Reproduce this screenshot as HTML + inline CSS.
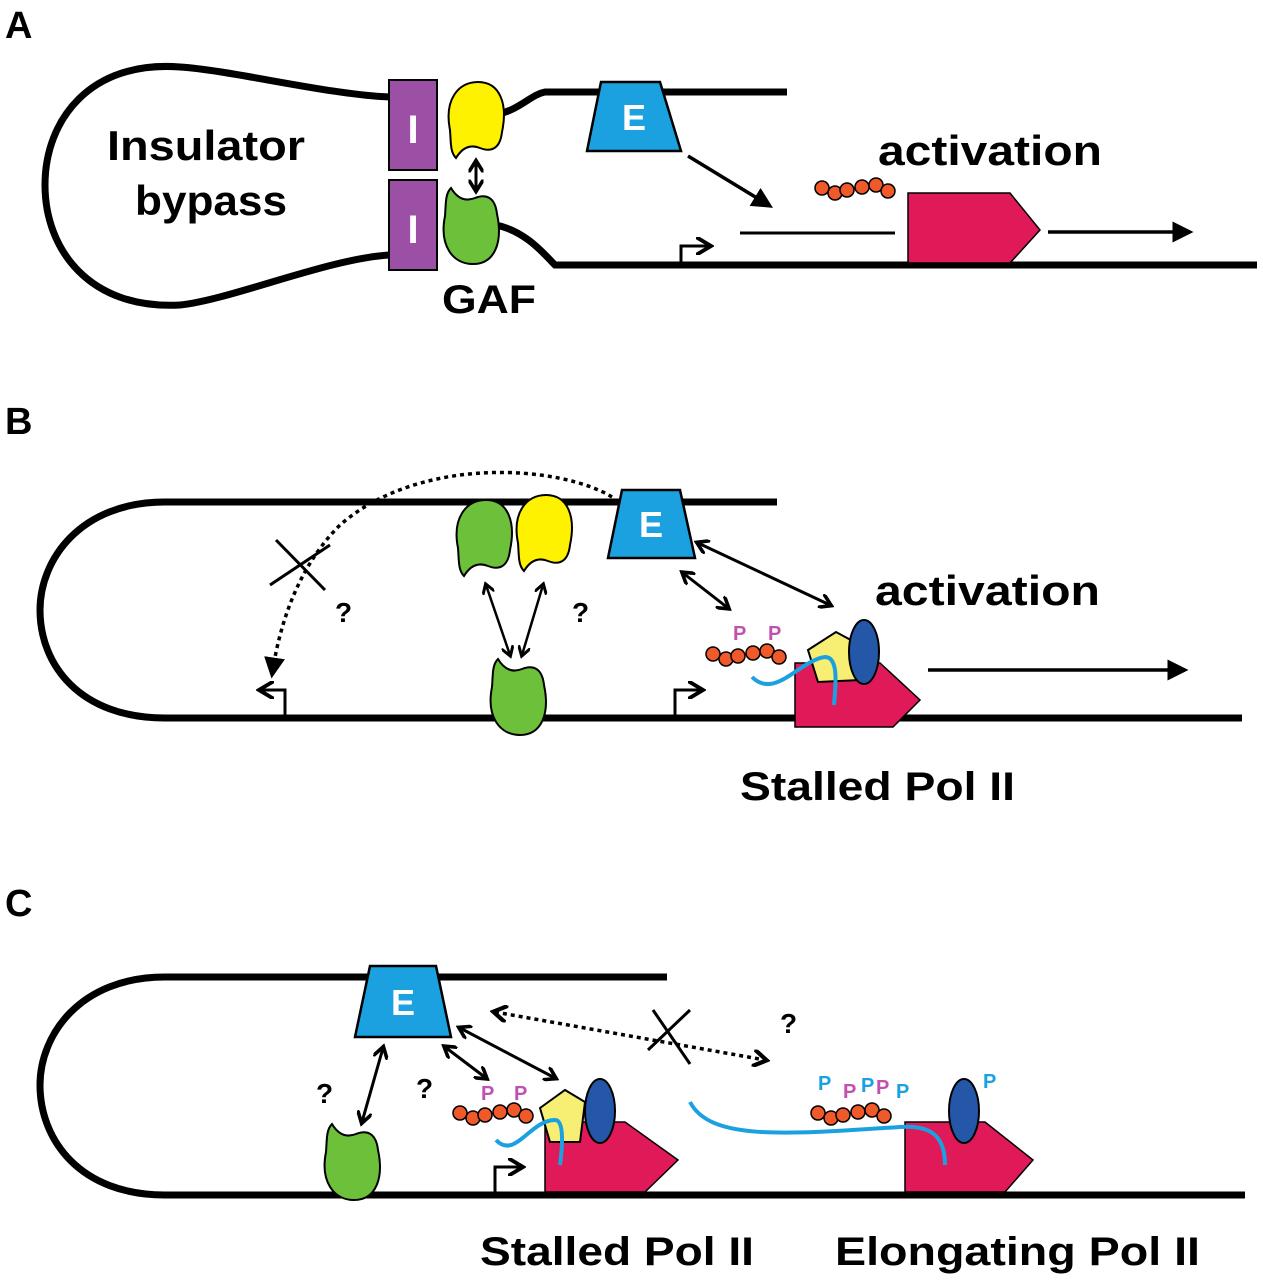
<!DOCTYPE html>
<html><head><meta charset="utf-8"><style>
html,body{margin:0;padding:0;background:#fff;}
svg{display:block;}
text{font-family:"Liberation Sans",sans-serif;font-weight:bold;}
</style></head><body>
<svg width="1263" height="1280" viewBox="0 0 1263 1280" xmlns="http://www.w3.org/2000/svg">
<defs>
<marker id="ah" markerWidth="6" markerHeight="6" refX="4" refY="3" orient="auto" markerUnits="strokeWidth"><path d="M0,0 L5,3 L0,6" fill="none" stroke="#000" stroke-width="1.3"/></marker>
<marker id="ahs" markerWidth="5" markerHeight="5" refX="3.5" refY="2.5" orient="auto-start-reverse" markerUnits="strokeWidth"><path d="M0,0 L4,2.5 L0,5" fill="none" stroke="#000" stroke-width="1.2"/></marker>
<marker id="tri" markerWidth="6" markerHeight="6" refX="5" refY="3" orient="auto" markerUnits="strokeWidth"><path d="M0,0 L6,3 L0,6 Z" fill="#000"/></marker>
<path id="yblob" d="M-26,8 C-32,-22 -18,-40 2,-40 C24,-40 32,-18 26,10 C24,28 14,30 4,26 C-6,22 -14,26 -20,36 C-26,30 -25,20 -26,8 Z"/>
<path id="gblob" d="M-26,-8 C-32,22 -18,40 2,40 C24,40 32,18 26,-10 C24,-28 14,-30 4,-26 C-6,-22 -14,-26 -20,-36 C-26,-30 -25,-20 -26,-8 Z"/>
<g id="beads" fill="#f0592a" stroke="#000" stroke-width="1.5">
<circle cx="0" cy="0" r="7"/><circle cx="13" cy="5" r="7"/><circle cx="25" cy="2" r="7"/><circle cx="40" cy="-1" r="7"/><circle cx="54" cy="-3" r="7"/><circle cx="66" cy="3" r="7"/>
</g>
</defs>

<!-- Panel A -->
<g>
<text x="5" y="38" font-size="38">A</text>
<path d="M390,97 C330,95 230,70 180,67 C90,60 45,120 45,185 C45,250 90,310 180,305 C230,300 330,258 390,255" fill="none" stroke="#000" stroke-width="7"/>
<path d="M495,115 C520,110 530,95 545,92 L787,92" fill="none" stroke="#000" stroke-width="7"/>
<path d="M495,225 C525,230 545,255 555,265 L1257,265" fill="none" stroke="#000" stroke-width="7"/>
<rect x="389" y="80" width="48" height="90" fill="#9b4fa5" stroke="#000" stroke-width="2"/>
<rect x="389" y="180" width="48" height="90" fill="#9b4fa5" stroke="#000" stroke-width="2"/>
<text x="413" y="143" font-size="40" fill="#fff" text-anchor="middle">I</text>
<text x="413" y="243" font-size="40" fill="#fff" text-anchor="middle">I</text>
<use href="#yblob" transform="translate(476,122)" fill="#fff200" stroke="#000" stroke-width="2"/>
<use href="#gblob" transform="translate(471,224)" fill="#6dc03a" stroke="#000" stroke-width="2"/>
<line x1="476" y1="162" x2="476" y2="190" stroke="#000" stroke-width="3" marker-start="url(#ahs)" marker-end="url(#ahs)"/>
<polygon points="601,82 660,82 681,151 587,151" fill="#1ba1e0" stroke="#000" stroke-width="2.5"/>
<text x="634" y="130" font-size="36" fill="#fff" text-anchor="middle">E</text>
<line x1="688" y1="156" x2="770" y2="206" stroke="#000" stroke-width="3.5" marker-end="url(#tri)"/>
<line x1="740" y1="233" x2="895" y2="233" stroke="#000" stroke-width="3"/>
<path d="M681,265 L681,246 L708,246" fill="none" stroke="#000" stroke-width="3" marker-end="url(#ah)"/>
<use href="#beads" transform="translate(822,188)"/>
<polygon points="908,193 1010,193 1040,230 1010,263 908,263" fill="#e01a58" stroke="#000" stroke-width="1.5"/>
<line x1="1048" y1="232" x2="1190" y2="232" stroke="#000" stroke-width="3.5" marker-end="url(#tri)"/>
<text x="107" y="160" font-size="42" textLength="198" lengthAdjust="spacingAndGlyphs">Insulator</text>
<text x="135" y="215" font-size="42" textLength="152" lengthAdjust="spacingAndGlyphs">bypass</text>
<text x="878" y="165" font-size="42" textLength="224" lengthAdjust="spacingAndGlyphs">activation</text>
<text x="442" y="313" font-size="40" textLength="94" lengthAdjust="spacingAndGlyphs">GAF</text>
</g>

<!-- Panel B -->
<g>
<text x="5" y="434" font-size="38">B</text>
<path d="M777,502 L165,502 C80,502 40,560 40,610 C40,665 80,718 165,718 L1242,718" fill="none" stroke="#000" stroke-width="7"/>
<use href="#yblob" transform="translate(544,535)" fill="#fff200" stroke="#000" stroke-width="2"/>
<use href="#gblob" transform="translate(484,540) scale(1,-1)" fill="#6dc03a" stroke="#000" stroke-width="2"/>
<use href="#gblob" transform="translate(518,695)" fill="#6dc03a" stroke="#000" stroke-width="2"/>
<line x1="486" y1="585" x2="510" y2="655" stroke="#000" stroke-width="2.5" marker-start="url(#ahs)" marker-end="url(#ahs)"/>
<line x1="543" y1="585" x2="522" y2="655" stroke="#000" stroke-width="2.5" marker-start="url(#ahs)" marker-end="url(#ahs)"/>
<polygon points="622,490 680,490 695,558 608,558" fill="#1ba1e0" stroke="#000" stroke-width="2.5"/>
<text x="651" y="537" font-size="36" fill="#fff" text-anchor="middle">E</text>
<path d="M612,497 C560,465 420,455 340,525 C300,565 280,620 272,675" fill="none" stroke="#000" stroke-width="3.5" stroke-dasharray="4,4" marker-end="url(#tri)"/>
<line x1="276" y1="540" x2="325" y2="590" stroke="#000" stroke-width="3"/>
<line x1="330" y1="545" x2="270" y2="585" stroke="#000" stroke-width="3"/>
<text x="335" y="622" font-size="28">?</text>
<text x="572" y="622" font-size="28">?</text>
<line x1="683" y1="573" x2="728" y2="608" stroke="#000" stroke-width="3" marker-start="url(#ahs)" marker-end="url(#ahs)"/>
<line x1="698" y1="543" x2="830" y2="605" stroke="#000" stroke-width="3" marker-start="url(#ahs)" marker-end="url(#ahs)"/>
<path d="M285,718 L285,690 L262,690" fill="none" stroke="#000" stroke-width="3" marker-end="url(#ah)"/>
<path d="M675,718 L675,690 L700,690" fill="none" stroke="#000" stroke-width="3" marker-end="url(#ah)"/>
<use href="#beads" transform="translate(713,654)"/>
<text x="733" y="640" font-size="20" fill="#c150b0" font-weight="normal">P</text>
<text x="768" y="640" font-size="20" fill="#c150b0" font-weight="normal">P</text>
<polygon points="795,663 880,663 920,700 893,727 795,727" fill="#e01a58" stroke="#000" stroke-width="1.5"/>
<polygon points="808,650 836,632 860,645 860,680 818,682" fill="#f7ee74" stroke="#000" stroke-width="2"/>
<ellipse cx="864" cy="652" rx="15" ry="32" fill="#2457a8" stroke="#000" stroke-width="2"/>
<path d="M752,677 C775,700 800,660 825,657 C840,657 835,690 834,705" fill="none" stroke="#1ba1e0" stroke-width="4"/>
<line x1="928" y1="670" x2="1185" y2="670" stroke="#000" stroke-width="3.5" marker-end="url(#tri)"/>
<text x="875" y="605" font-size="42" textLength="225" lengthAdjust="spacingAndGlyphs">activation</text>
<text x="740" y="800" font-size="40" textLength="275" lengthAdjust="spacingAndGlyphs">Stalled Pol II</text>
</g>

<!-- Panel C -->
<g>
<text x="5" y="916" font-size="38">C</text>
<path d="M667,977 L165,977 C80,977 40,1035 40,1085 C40,1140 80,1195 165,1195 L1245,1195" fill="none" stroke="#000" stroke-width="7"/>
<polygon points="370,966 436,966 451,1037 355,1037" fill="#1ba1e0" stroke="#000" stroke-width="2.5"/>
<text x="403" y="1015" font-size="36" fill="#fff" text-anchor="middle">E</text>
<use href="#gblob" transform="translate(352,1160)" fill="#6dc03a" stroke="#000" stroke-width="2"/>
<line x1="383" y1="1048" x2="362" y2="1122" stroke="#000" stroke-width="3" marker-start="url(#ahs)" marker-end="url(#ahs)"/>
<line x1="445" y1="1047" x2="486" y2="1078" stroke="#000" stroke-width="3" marker-start="url(#ahs)" marker-end="url(#ahs)"/>
<line x1="460" y1="1028" x2="555" y2="1078" stroke="#000" stroke-width="3" marker-start="url(#ahs)" marker-end="url(#ahs)"/>
<line x1="495" y1="1012" x2="765" y2="1060" stroke="#000" stroke-width="3.5" stroke-dasharray="4,4" marker-start="url(#ahs)" marker-end="url(#ahs)"/>
<line x1="690" y1="1010" x2="648" y2="1050" stroke="#000" stroke-width="3"/>
<line x1="653" y1="1010" x2="690" y2="1064" stroke="#000" stroke-width="3"/>
<text x="316" y="1103" font-size="28">?</text>
<text x="416" y="1098" font-size="28">?</text>
<text x="780" y="1033" font-size="28">?</text>
<path d="M495,1195 L495,1167 L520,1167" fill="none" stroke="#000" stroke-width="3" marker-end="url(#ah)"/>
<use href="#beads" transform="translate(460,1113)"/>
<text x="481" y="1100" font-size="20" fill="#c150b0" font-weight="normal">P</text>
<text x="514" y="1100" font-size="20" fill="#c150b0" font-weight="normal">P</text>
<polygon points="545,1122 625,1122 678,1160 645,1192 545,1192" fill="#e01a58" stroke="#000" stroke-width="1.5"/>
<polygon points="540,1108 565,1090 585,1102 580,1142 550,1142" fill="#f7ee74" stroke="#000" stroke-width="2"/>
<ellipse cx="600" cy="1111" rx="15" ry="32" fill="#2457a8" stroke="#000" stroke-width="2"/>
<path d="M496,1140 C515,1160 530,1120 555,1120 C565,1120 562,1150 560,1165" fill="none" stroke="#1ba1e0" stroke-width="4"/>
<use href="#beads" transform="translate(818,1113)"/>
<text x="818" y="1090" font-size="20" fill="#1ba1e0" font-weight="normal">P</text>
<text x="843" y="1098" font-size="20" fill="#c150b0" font-weight="normal">P</text>
<text x="861" y="1092" font-size="20" fill="#1ba1e0" font-weight="normal">P</text>
<text x="876" y="1094" font-size="20" fill="#c150b0" font-weight="normal">P</text>
<text x="896" y="1098" font-size="20" fill="#1ba1e0" font-weight="normal">P</text>
<text x="983" y="1088" font-size="20" fill="#1ba1e0" font-weight="normal">P</text>
<polygon points="905,1122 985,1122 1033,1160 1005,1192 905,1192" fill="#e01a58" stroke="#000" stroke-width="1.5"/>
<ellipse cx="964" cy="1111" rx="15" ry="32" fill="#2457a8" stroke="#000" stroke-width="2"/>
<path d="M690,1102 C710,1140 780,1135 900,1127 C930,1125 945,1135 945,1165" fill="none" stroke="#1ba1e0" stroke-width="4"/>
<text x="480" y="1265" font-size="40" textLength="274" lengthAdjust="spacingAndGlyphs">Stalled Pol II</text>
<text x="835" y="1265" font-size="40" textLength="365" lengthAdjust="spacingAndGlyphs">Elongating Pol II</text>
</g>
</svg>
</body></html>
